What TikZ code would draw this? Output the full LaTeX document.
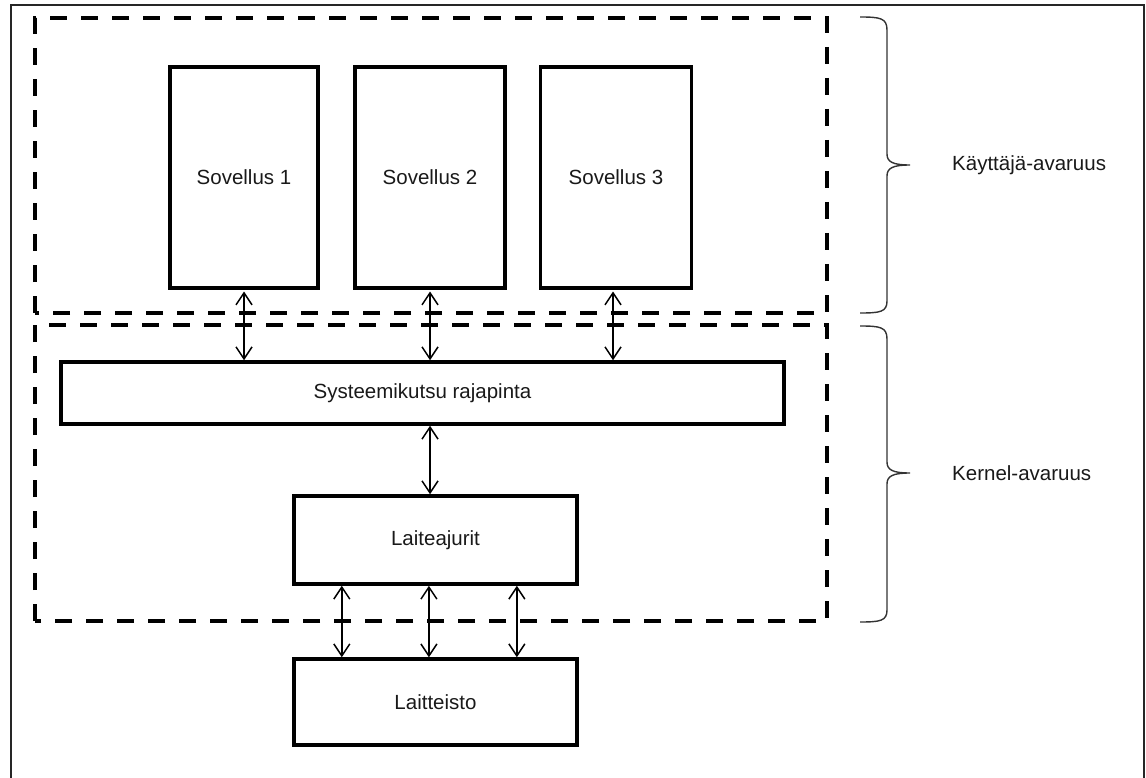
\documentclass[tikz,border=0pt]{standalone}
\usepackage{fontspec}
\setmainfont{Liberation Sans}
\usetikzlibrary{arrows.meta,calc}

\tikzset{
  lbl/.style={font=\fontsize{20.5}{24}\selectfont, text=black!90},
  block/.style={lbl, draw=black, line width=3.5, rectangle, inner sep=0},
  zone/.style={draw=black, line width=4, dash pattern=on 17 off 14},
  biarrow/.style={line width=1.5, {Straight Barb[length=12,width=16]}-{Straight Barb[length=12,width=16]}},
  curly/.style={draw=black!80, line width=1.4},
}

\begin{document}
\begin{tikzpicture}[x=1pt,y=-1pt]
\useasboundingbox (0,0) rectangle (1146,778);

% outer frame (open at the bottom edge of the page)
\draw[line width=1.6, black!85] (11,790) -- (11,5) -- (1144,5) -- (1144,790);

% user space and kernel space zones
\draw[zone] (35,313) -- (35,18) -- (827,18) -- (827,313) -- cycle;
\draw[zone] (35,621) -- (35,325) -- (827,325) -- (827,621) -- cycle;

% applications
\node[block, minimum width=148, minimum height=221] (s1) at (244,177.5) {Sovellus 1};
\node[block, minimum width=150, minimum height=221] (s2) at (430,177.5) {Sovellus 2};
\node[block, minimum width=151, minimum height=221] (s3) at (616,177.5) {Sovellus 3};

% system call interface
\node[block, minimum width=723, minimum height=62] (sys) at (422.5,393) {Systeemikutsu rajapinta};

% device drivers and hardware
\node[block, minimum width=283, minimum height=88] (drv) at (435.5,540) {Laiteajurit};
\node[block, minimum width=283, minimum height=86] (hw) at (435.5,702) {Laitteisto};

% connectors
\draw[biarrow] ([yshift=-1.75]s1.south) -- (s1.south |- sys.north);
\draw[biarrow] ([yshift=-1.75]s2.south) -- (s2.south |- sys.north);
\draw[biarrow] ([xshift=-3,yshift=-1.75]s3.south) -- ([xshift=-3]s3.south |- sys.north);

\coordinate (mid) at (430,0);
\draw[biarrow] (sys.south -| mid) -- (drv.north -| mid);

\draw[biarrow] ($(drv.south west)!0.173!(drv.south east)$) -- ($(hw.north west)!0.173!(hw.north east)$);
\draw[biarrow] ($(drv.south west)!0.477!(drv.south east)$) -- ($(hw.north west)!0.477!(hw.north east)$);
\draw[biarrow] ($(drv.south west)!0.784!(drv.south east)$) -- ($(hw.north west)!0.784!(hw.north east)$);

% braces with their labels
\draw[curly] (860,17) .. controls (880,17) and (887,18) .. (887,30) -- (887,154)
  .. controls (887,162) and (893,165) .. (910,165)
  .. controls (893,165) and (887,168) .. (887,176) -- (887,301)
  .. controls (887,312) and (880,313) .. (860,313);
\draw[curly] (860,326) .. controls (880,326) and (887,327) .. (887,339) -- (887,462)
  .. controls (887,470) and (893,473) .. (910,473)
  .. controls (893,473) and (887,476) .. (887,484) -- (887,610)
  .. controls (887,621) and (880,622) .. (860,622);

\node[lbl, anchor=west, inner sep=0] (user) at (952,165) {Käyttäjä-avaruus};
\node[lbl, anchor=west, inner sep=0] (kern) at (952,473) {Kernel-avaruus};
\end{tikzpicture}
\end{document}
